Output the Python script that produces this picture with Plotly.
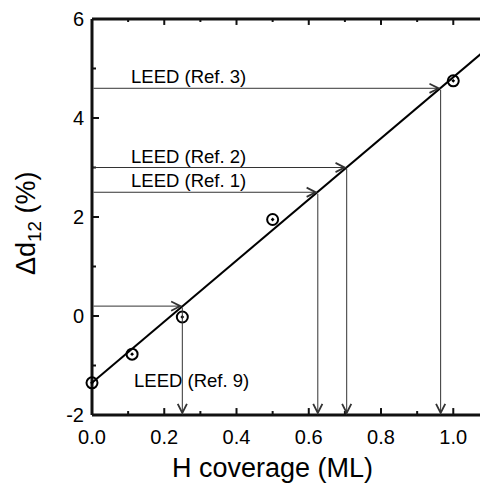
import plotly.graph_objects as go

# ---- data ----
coverage = [0.0, 0.111, 0.25, 0.5, 1.0]
delta_d12 = [-1.35, -0.77, -0.02, 1.95, 4.75]

fit_x = [0.0, 1.1]
fit_y = [-1.35, 5.44]

leed_labels = ["LEED (Ref. 3)", "LEED (Ref. 2)", "LEED (Ref. 1)", "LEED (Ref. 9)"]
leed_delta = [4.6, 3.0, 2.5, 0.2]
leed_coverage = [0.965, 0.705, 0.625, 0.25]
label_x = [0.103, 0.103, 0.103, 0.110]
label_y = [4.83, 3.22, 2.73, -1.30]

x_ticks = [0.0, 0.2, 0.4, 0.6, 0.8, 1.0]
x_ticklabels = ["0.0", "0.2", "0.4", "0.6", "0.8", "1.0"]
x_minor = [0.1, 0.3, 0.5, 0.7, 0.9]
y_ticks = [-2, 0, 2, 4, 6]
y_ticklabels = ["-2", "0", "2", "4", "6"]
y_minor = [-1, 1, 3, 5]

x_frame = [0.0, 1.0961]   # left frame at 0, plot runs off the right edge
y_frame = [-2, 6]

FONT = "Liberation Sans, Arial, Helvetica, sans-serif"
ARROW_COLOR = "#333333"
FRAME_COLOR = "#111111"

# ---- geometry (page body adds an 8px margin) ----
W, H = 480, 482
M_L, M_R, M_T, M_B = 81, 0, 6, 72
PAD = 3  # px between plot edge and frame, so frame lines are not clipped
plot_w = W - M_L - M_R
plot_h = H - M_T - M_B
sx = (plot_w - PAD) / (x_frame[1] - x_frame[0])
sy = (plot_h - 2 * PAD) / (y_frame[1] - y_frame[0])
x_range = [x_frame[0] - PAD / sx, x_frame[1]]
y_range = [y_frame[0] - PAD / sy, y_frame[1] + PAD / sy]

fig = go.Figure()

# frame lines (left, bottom, top)
fx = [x_frame[0], x_frame[0], None, x_frame[0], x_range[1], None, x_frame[0], x_range[1]]
fy = [y_frame[0], y_frame[1], None, y_frame[0], y_frame[0], None, y_frame[1], y_frame[1]]
fig.add_trace(go.Scatter(x=fx, y=fy, mode="lines", line=dict(color=FRAME_COLOR, width=3),
                         hoverinfo="skip"))

# inward tick marks built from the tick lists
tx, ty = [], []


def add_xtick(v, length, top):
    y0 = y_frame[1] if top else y_frame[0]
    dy = -length / sy if top else length / sy
    tx.extend([v, v, None])
    ty.extend([y0, y0 + dy, None])


def add_ytick(v, length, right):
    x0 = x_range[1] if right else x_frame[0]
    dx = -length / sx if right else length / sx
    tx.extend([x0, x0 + dx, None])
    ty.extend([v, v, None])


for v in x_ticks:
    add_xtick(v, 7, False)
    add_xtick(v, 6, True)
for v in x_minor:
    add_xtick(v, 4, False)
    add_xtick(v, 3, True)
for v in y_ticks:
    add_ytick(v, 7, False)
    add_ytick(v, 5, True)
for v in y_minor:
    add_ytick(v, 4, False)
    add_ytick(v, 3, True)

fig.add_trace(go.Scatter(x=tx, y=ty, mode="lines", line=dict(color=FRAME_COLOR, width=2),
                         hoverinfo="skip"))

fig.add_trace(go.Scatter(x=fit_x, y=fit_y, mode="lines",
                         line=dict(color="black", width=2), hoverinfo="skip"))
fig.add_trace(go.Scatter(x=coverage, y=delta_d12, mode="markers", cliponaxis=False,
                         marker=dict(symbol="circle-open-dot", size=11, color="black",
                                     line=dict(color="black", width=2))))

annotations = []
for lab, yd, xc, lx, ly in zip(leed_labels, leed_delta, leed_coverage, label_x, label_y):
    annotations.append(dict(x=xc, y=yd, ax=x_frame[0], ay=yd, xref="x", yref="y",
                            axref="x", ayref="y", text="", showarrow=True,
                            arrowhead=5, arrowsize=1.8, arrowwidth=1,
                            arrowcolor=ARROW_COLOR, standoff=0, startstandoff=0))
    annotations.append(dict(x=xc, y=y_frame[0], ax=xc, ay=yd, xref="x", yref="y",
                            axref="x", ayref="y", text="", showarrow=True,
                            arrowhead=5, arrowsize=1.8, arrowwidth=1,
                            arrowcolor=ARROW_COLOR, standoff=0, startstandoff=0))
    annotations.append(dict(x=lx, y=ly, xref="x", yref="y", text=lab, showarrow=False,
                            xanchor="left", yanchor="middle",
                            font=dict(family=FONT, size=18.5, color="black")))

annotations.append(dict(x=0.5, y=0, xref="x", yref="paper", text="H coverage (ML)",
                        showarrow=False, xanchor="center", yanchor="middle", yshift=-50,
                        font=dict(family=FONT, size=27, color="black")))
annotations.append(dict(x=0, y=0.5, xref="paper", yref="paper",
                        text="Δd<sub>12</sub> (%)", textangle=-90,
                        showarrow=False, xanchor="center", yanchor="middle",
                        xshift=-61, yshift=-6,
                        font=dict(family=FONT, size=27, color="black")))

fig.update_layout(
    width=W, height=H,
    margin=dict(l=M_L, r=M_R, t=M_T, b=M_B),
    plot_bgcolor="white", paper_bgcolor="white",
    showlegend=False,
    font=dict(family=FONT, color="black"),
    annotations=annotations,
    xaxis=dict(range=x_range, tickmode="array", tickvals=x_ticks, ticktext=x_ticklabels,
               tickfont=dict(family=FONT, size=20, color="black"),
               showgrid=False, zeroline=False, showline=False, ticks="",
               ticklabelstandoff=5, ticklabeloverflow="allow"),
    yaxis=dict(range=y_range, tickmode="array", tickvals=y_ticks, ticktext=y_ticklabels,
               tickfont=dict(family=FONT, size=20, color="black"),
               showgrid=False, zeroline=False, showline=False, ticks="",
               ticklabelstandoff=4, ticklabeloverflow="allow"),
)

fig.write_html("out.html")
